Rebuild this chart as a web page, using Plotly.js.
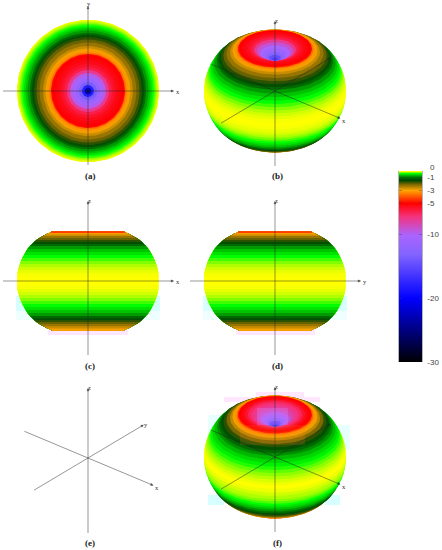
<!DOCTYPE html>
<html><head><meta charset="utf-8">
<script src="https://cdn.plot.ly/plotly-3.0.1.min.js"></script>
<style>html,body{margin:0;padding:0;background:#fff}</style></head>
<body><div id="chart" style="width:442px;height:550px"></div>
<script>
// Pattern profile (radius from axis, height, level in dB)
const rimRho = [71,70.9,70.6,70,69.2,68.2,67,65.7,64.2,62.5,60.5,58,56,54,51.5,48.5,45,42.5,40.5,38.5,37,36];
const rimZ   = [0,4,8,11,14,17,20,23,26,29,32,35,37,39,41,43,45,46.5,47.5,48,48.6,49.5];
const rimDb  = [0,-0.01,-0.03,-0.06,-0.1,-0.16,-0.24,-0.32,-0.45,-0.6,-0.8,-1.05,-1.3,-1.6,-1.9,-2.2,-2.6,-2.9,-3.2,-3.6,-4.8,-5];
const lowerDb= [0,-0.01,-0.03,-0.06,-0.1,-0.16,-0.24,-0.32,-0.45,-0.6,-0.8,-1.05,-1.3,-1.6,-1.9,-2.2,-2.5,-2.7,-2.8,-2.9,-3,-3];
const dimpleRho = [33,30,27,24,21,18,15,12,9,6,3.5,1.5];
const dimpleZ   = [49.3,49.2,49,48.5,47.5,46,44,42,40,38.5,37,36.5];
const dimpleDb  = [-5.2,-5.4,-5.7,-6.2,-7.5,-9.5,-10.5,-11.5,-13.5,-18,-22,-27];
const dimpleDbIso=[-5.2,-5.4,-5.7,-6.2,-7.5,-9,-10,-11,-12.5,-14.5,-15.5,-16];
// Panel (f) levels
const rimDbF    = [-0.02,0,-0.02,-0.05,-0.09,-0.14,-0.2,-0.28,-0.38,-0.5,-0.66,-0.85,-1.05,-1.3,-1.6,-2,-2.5,-2.9,-3.2,-3.7,-4.8,-5];
const lowerDbF  = [-0.03,-0.06,-0.1,-0.15,-0.22,-0.32,-0.45,-0.6,-0.8,-1,-1.3,-1.6,-1.9,-2.2,-2.6,-3,-3.5,-4,-4.5,-5,-5,-5];
const dimpleDbF = [-5.3,-5.8,-6.5,-7,-7.6,-8.3,-9.5,-11,-13,-15,-16,-17];
// Colour scale
const scaleDb  = [-30,-20,-13,-10,-7,-5,-3,-2,-1.4,-1,-0.32,0];
const scaleRgb = [[0,0,0],[0,0,255],[130,100,255],[170,100,255],[245,50,125],[255,0,0],[255,165,0],[125,105,0],[0,70,0],[0,110,0],[0,255,0],[255,255,0]];
const colorbarTicks = [0,-1,-3,-5,-10,-20,-30];
const captions = ['(a)','(b)','(c)','(d)','(e)','(f)'];

const PX_W=442, PX_H=550;
function col(db){
  if(db<=scaleDb[0]) return 'rgb('+scaleRgb[0]+')';
  for(let i=1;i<scaleDb.length;i++){
    if(db<=scaleDb[i]){
      const t=(db-scaleDb[i-1])/(scaleDb[i]-scaleDb[i-1]);
      const c=scaleRgb[i-1].map((v,k)=>Math.round(v+(scaleRgb[i][k]-v)*t));
      return 'rgb('+c.join(',')+')';
    }
  }
  return 'rgb('+scaleRgb[scaleRgb.length-1]+')';
}
const traces=[], annos=[], layout={
  width:PX_W,height:PX_H,margin:{l:0,r:0,t:0,b:0},paper_bgcolor:'#fff',plot_bgcolor:'rgba(0,0,0,0)',showlegend:false,hovermode:false
};
const panels=[
 {name:'a',cx:88,cy:91,box:[0,180,0,183],view:'top'},
 {name:'b',cx:275,cy:91,box:[190,370,0,183],view:'iso'},
 {name:'c',cx:88,cy:281,box:[0,180,195,372],view:'side',h:'x'},
 {name:'d',cx:275,cy:281,box:[190,370,195,372],view:'side',h:'y'},
 {name:'e',cx:88,cy:458,box:[0,180,382,550],view:'empty'},
 {name:'f',cx:275,cy:457,box:[190,370,382,550],view:'iso',alt:true},
];
const AZ=40*Math.PI/180, EL=30*Math.PI/180;
const proj=(x,y,z)=>[x*Math.cos(AZ)+y*Math.sin(AZ), (-x*Math.sin(AZ)+y*Math.cos(AZ))*Math.sin(EL)+z*Math.cos(EL)];
const circle=[];for(let i=0;i<=120;i++)circle.push(i*Math.PI/60);

function poly(ax,xs,ys,c){traces.push({type:'scatter',mode:'lines',x:xs,y:ys,xaxis:ax.x,yaxis:ax.y,fill:'toself',fillcolor:c,line:{width:0,color:c},hoverinfo:'skip'});}
function disc(ax,rho,z,sinE,cosE,c){
  poly(ax,circle.map(t=>rho*Math.cos(t)),circle.map(t=>rho*Math.sin(t)*sinE+z*cosE),c);
}
function axisLine(ax,p,q,arrow){
  traces.push({type:'scatter',mode:'lines',x:[p[0],q[0]],y:[p[1],q[1]],xaxis:ax.x,yaxis:ax.y,line:{color:'rgba(35,35,35,0.6)',width:0.8},hoverinfo:'skip'});
  if(arrow){
    const dx=q[0]-p[0],dy=q[1]-p[1],L=Math.hypot(dx,dy);
    annos.push({x:q[0]+dx/L*2,y:q[1]+dy/L*2,ax:q[0]-dx/L*3,ay:q[1]-dy/L*3,xref:ax.x,yref:ax.y,axref:ax.x,ayref:ax.y,text:'',showarrow:true,arrowhead:2,arrowsize:0.8,arrowwidth:0.7,arrowcolor:'rgba(35,35,35,0.75)'});
  }
}
function label(ax,x,y,t){annos.push({x,y,xref:ax.x,yref:ax.y,text:t,showarrow:false,font:{family:'Liberation Serif',size:6.5,color:'#333'},xanchor:'center',yanchor:'middle'});}

panels.forEach((p,i)=>{
  const id=i===0?'':String(i+1), ax={x:'x'+id,y:'y'+id};
  const [x0,x1,y0,y1]=p.box;
  layout['xaxis'+id]={domain:[x0/PX_W,x1/PX_W],range:[x0-p.cx,x1-p.cx],visible:false,fixedrange:true,anchor:ax.y};
  layout['yaxis'+id]={domain:[1-y1/PX_H,1-y0/PX_H],range:[p.cy-y1,p.cy-y0],visible:false,fixedrange:true,anchor:ax.x};
  const up=p.alt?rimDbF:rimDb, dim=p.alt?dimpleDbF:(p.view==='iso'?dimpleDbIso:dimpleDb), low=p.alt?lowerDbF:lowerDb;
  if(p.view==='top'){
    rimRho.forEach((r,k)=>disc(ax,r,0,1,0,col(up[k])));
    dimpleRho.forEach((r,k)=>disc(ax,r,0,1,0,col(dim[k])));
    axisLine(ax,[-85,0],[84,0],true);axisLine(ax,[0,-74],[0,83],true);
    label(ax,90,0,'x');label(ax,1,88,'y');
  } else if(p.view==='iso'){
    const s=Math.sin(EL),c=Math.cos(EL);
    for(let k=rimRho.length-1;k>=0;k--)disc(ax,rimRho[k],-rimZ[k],s,c,col(low[k]));
    rimRho.forEach((r,k)=>disc(ax,r,rimZ[k],s,c,col(up[k])));
    dimpleRho.forEach((r,k)=>disc(ax,r,dimpleZ[k],s,c,col(dim[k])));
  } else if(p.view==='side'){
    [[-1,lowerDb],[1,rimDb]].forEach(([sgn,arr])=>{
      rimRho.forEach((r,k)=>{
        const R=rimRho.slice(k),Z=rimZ.slice(k).map(v=>v*sgn);
        poly(ax,R.concat(R.map(v=>-v).reverse()),Z.concat(Z.slice().reverse()),col(arr[k]));
      });
    });
    axisLine(ax,[-85,0],[84,0],true);axisLine(ax,[0,-74],[0,78],true);
    label(ax,90,0,p.h);label(ax,1,80,'z');
  }
  if(p.view==='iso'||p.view==='empty'){
    axisLine(ax,proj(-83,0,0),proj(83,0,0),true);
    axisLine(ax,proj(0,-84,0),proj(0,84,0),true);
    axisLine(ax,[0,-75],[0,68],true);
    label(ax,69,-29,'x');label(ax,1,71,'z');
    if(p.view==='empty')label(ax,58,34,'y');
  }
  annos.push({x:2,y:p.cy-({a:176,b:176,c:366,d:366,e:543,f:543})[p.name],xref:ax.x,yref:ax.y,text:captions[i],showarrow:false,font:{family:'Liberation Serif',size:9,color:'#222',weight:'bold'},xanchor:'center',yanchor:'middle'});
});

// Faint compression tints around the bodies in the reference
const tintCyan='rgba(205,255,255,0.8)', tintPink='rgba(255,225,255,0.8)';
function tint(x0,x1,y0,y1,c,layer){return {type:'rect',xref:'paper',yref:'paper',x0:x0/PX_W,x1:x1/PX_W,y0:1-y1/PX_H,y1:1-y0/PX_H,fillcolor:c,line:{width:0},layer:layer||'below'};}
layout.shapes=[
 tint(16,160,296,311,tintCyan),tint(16,160,311,320,'rgba(235,255,255,0.8)'),tint(48,128,330,335,tintPink),
 tint(203,347,296,311,tintCyan),tint(203,347,311,320,'rgba(235,255,255,0.8)'),tint(236,315,330,335,tintPink),
 tint(256,304,392,397,tintPink),tint(224,320,397,402,tintPink),tint(208,225,415,445,'rgba(225,255,255,0.8)'),tint(328,350,425,450,'rgba(225,255,255,0.8)'),
 tint(208,224,495,505,tintCyan),tint(325,340,495,505,tintCyan),
 tint(257,288,408,425,'rgba(225,130,255,0.28)','above'),tint(240,305,425,445,'rgba(255,130,40,0.14)','above')
];

// Colour bar drawn as a heatmap through its own axes
const cbStops=scaleDb.slice();
layout.xaxis7={domain:[399/PX_W,422/PX_W],range:[0,1],visible:false,fixedrange:true,anchor:'y7'};
layout.yaxis7={domain:[1-362/PX_H,1-171/PX_H],range:[-30,0],side:'right',anchor:'x7',fixedrange:true,showgrid:false,zeroline:false,
  tickmode:'array',tickvals:colorbarTicks,ticktext:colorbarTicks.map(v=>v===0?'':String(v)),ticks:'inside',ticklen:3,tickwidth:0.8,tickcolor:'rgba(70,50,90,0.5)',
  mirror:'ticks',showline:true,linecolor:'rgba(60,60,60,0.55)',linewidth:0.7,ticklabelstandoff:3,
  tickfont:{family:'Liberation Sans',size:8,color:'#444'}};
annos.push({x:1,y:0,xref:'x7',yref:'y7',xshift:7,yshift:3.5,text:'0',showarrow:false,xanchor:'left',yanchor:'middle',borderpad:0,font:{family:'Liberation Sans',size:8,color:'#444'}});
traces.push({type:'heatmap',x:[0,1],y:cbStops,z:cbStops.map(v=>[v,v]),xaxis:'x7',yaxis:'y7',zmin:-30,zmax:0,zsmooth:'best',showscale:false,hoverinfo:'skip',
  colorscale:scaleDb.map((d,k)=>[(d+30)/30,'rgb('+scaleRgb[k]+')'])});
layout.annotations=annos;
Plotly.newPlot('chart',traces,layout,{staticPlot:true,displayModeBar:false});
</script></body></html>
